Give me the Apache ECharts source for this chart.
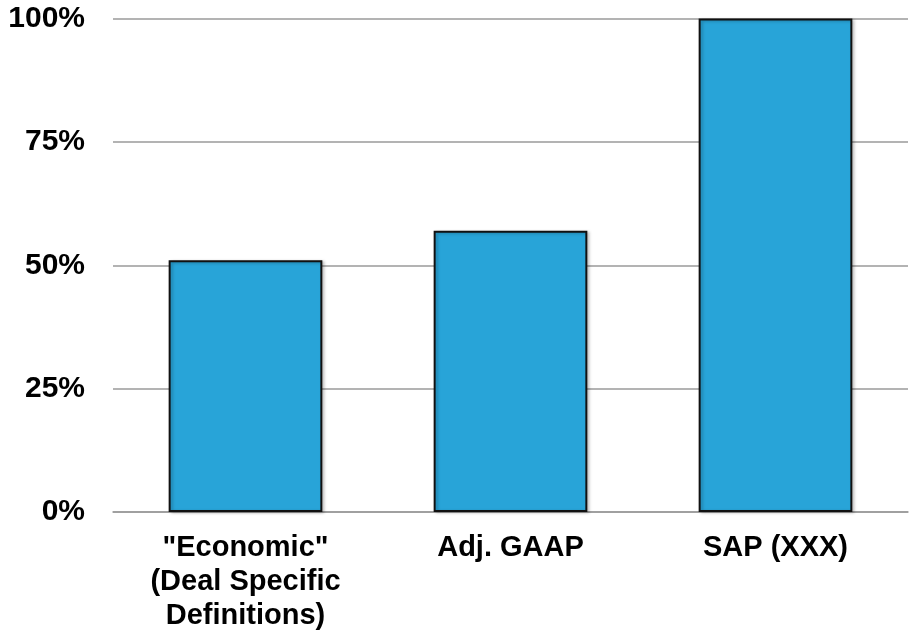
<!DOCTYPE html>
<html>
<head>
<meta charset="utf-8">
<script src="https://cdn.jsdelivr.net/npm/echarts@6/dist/echarts.min.js"></script>
<style>
  html, body { margin: 0; padding: 0; background: #ffffff; }
  #chart { width: 910px; height: 633px; }
</style>
</head>
<body>
<div id="chart"></div>
<script>
// data
const categories = ['"Economic"\n(Deal Specific\nDefinitions)', "Adj. GAAP", "SAP (XXX)"];
const values = [51, 57, 100];
const yTicks = [0, 25, 50, 75, 100];

var myChart = echarts.init(document.getElementById("chart"));

var option = {
  animation: false,
  grid: {
    left: 113,
    right: 2,
    top: 18.5,
    bottom: 118,
    containLabel: false,
  },
  xAxis: {
    type: "category",
    data: categories,
    axisLine: {
      lineStyle: { color: "#9a9a9a", width: 1.5 },
    },
    axisTick: { show: false },
    axisLabel: {
      margin: 19,
      color: "#000000",
      fontFamily: "Liberation Sans, Arial, sans-serif",
      fontWeight: "bold",
      fontSize: 29,
      lineHeight: 34,
      interval: 0,
    },
  },
  yAxis: {
    type: "value",
    min: yTicks[0],
    max: yTicks[yTicks.length - 1],
    interval: yTicks[1] - yTicks[0],
    axisLine: { show: false },
    axisTick: { show: false },
    splitLine: {
      lineStyle: { color: "#9a9a9a", width: 1.5 },
    },
    axisLabel: {
      margin: 28,
      color: "#000000",
      fontFamily: "Liberation Sans, Arial, sans-serif",
      fontWeight: "bold",
      fontSize: 30,
      formatter: "{value}%",
    },
  },
  series: [
    {
      type: "bar",
      data: values,
      barWidth: "58%",
      itemStyle: {
        color: "#28a4d8",
        borderColor: "#111111",
        borderWidth: 2,
        shadowColor: "rgba(0,0,0,0.25)",
        shadowBlur: 3,
        shadowOffsetX: 2,
        shadowOffsetY: 1,
      },
    },
  ],
};
myChart.setOption(option);
</script>
</body>
</html>
